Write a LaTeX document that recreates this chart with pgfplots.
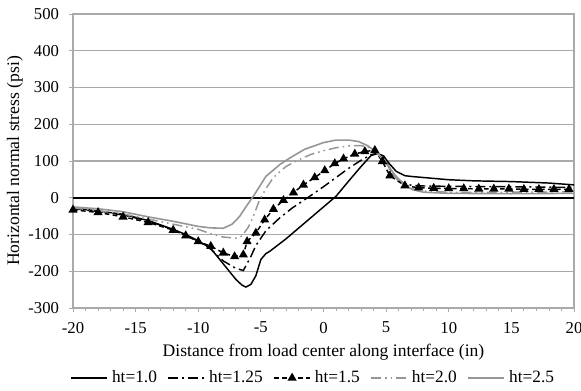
\documentclass[border=0pt]{standalone}
\usepackage{pgfplots}
\pgfplotsset{compat=1.18}
\usepackage{fontspec}
\setmainfont{Liberation Serif}

\definecolor{seriesgray}{RGB}{150,150,150}
\definecolor{gridgray}{RGB}{170,170,170}

% Horizontal normal stress along the interface for several thickness ratios
\pgfplotstableread{
x y
-20 -28
-18 -36
-16 -45
-14 -62
-12 -86
-11 -100
-10 -117
-9 -138
-8 -180
-7 -222
-6.5 -238
-6.2 -243
-5.8 -236
-5.4 -212
-5.0 -168
-4.6 -152
-4.3 -146
-3 -112
-2 -83
-1 -54
0 -25
1 4
2 45
3 85
3.8 115
4.3 120
4.8 114
5.2 95
5.8 72
6.5 60
7 58
8 55
10 49
12 46
15 44
18 40
20 35
}\htone
\pgfplotstableread{
x y
-20 -30
-18 -37
-16 -47
-14 -63
-12 -87
-10 -118
-9 -140
-8 -172
-7 -192
-6.4 -198
-5.8 -160
-5.4 -130
-5.0 -110
-4.6 -90
-3.5 -55
-2.5 -28
-1.1 4
0 30
1 55
2 80
3 102
3.8 117
4.3 121
4.8 108
5.3 80
6 45
7 34
8 32
10 31
15 30
20 28
}\httwo
\pgfplotstableread{
x y
-20 -33
-18 -40
-16 -52
-14 -67
-12 -88
-11 -103
-10 -119
-9 -132
-8 -150
-7.1 -160
-6.4 -155
-6.1 -119
-5.4 -96
-4.7 -60
-4.0 -31
-3.2 -7
-2.4 14
-1.6 35
-0.7 55
0.1 74
0.9 93
1.6 106
2.5 119
3.3 126
4.1 129
4.7 99
5.3 60
6.5 33
7.6 27
8.8 26
10.0 25
11.2 25
12.4 24
13.6 24
14.8 24
16.0 23
17.2 23
18.4 23
19.6 23
}\htthree
\pgfplotstableread{
x y
-20 -28
-18 -35
-16 -44
-14 -58
-12 -72
-10 -86
-9 -98
-8 -107
-7 -110
-6.5 -104
-6 -80
-5.6 -51
-5.1 -5
-4.5 30
-4 55
-3 85
-2 103
-1 118
0 128
1 136
2 141
3 142
3.8 135
4.5 115
5 90
5.5 65
6 45
7 25
8 18
10 15
15 15
20 16
}\htfour
\pgfplotstableread{
x y
-20 -25
-18 -30
-16 -38
-14 -52
-12 -64
-10 -78
-9 -82
-8 -83
-7.3 -72
-6.7 -51
-6.2 -25
-5.6 4
-4.6 58
-3.5 90
-2.7 108
-1.5 132
0 150
1 157
2 157
2.8 153
3.5 142
4.2 125
5 94
5.8 58
6.5 35
7.1 22
8 15
10 12
15 11
20 12
}\htfive

\begin{document}
\begin{tikzpicture}
\begin{axis}[
  scale only axis,
  width=375.75pt, height=220.5pt,
  xmin=-20, xmax=20, ymin=-300, ymax=500,
  xtick={-20,-15,...,20},
  minor x tick num=4,
  ytick={-300,-200,...,500},
  xtick pos=bottom, ytick pos=left,
  tick align=outside,
  major tick length=3pt, minor tick length=2.5pt,
  every tick/.style={gridgray, line width=0.6pt},
  axis line style={gridgray, line width=0.8pt},
  ymajorgrids,
  major grid style={gridgray, line width=0.8pt},
  /pgf/number format/assume math mode=true,
  ticklabel style={font=\fontsize{12.5}{14}\selectfont},
  yticklabel style={xshift=-4pt},
  xticklabel style={yshift=-4pt},
  xlabel={Distance from load center along interface (in)},
  ylabel={Horizontal normal stress (psi)},
  label style={font=\fontsize{13.2}{15}\selectfont},
  xlabel style={at={(axis description cs:0.5,-0.1497)}, anchor=center},
  ylabel style={at={(axis description cs:-0.1158,0.5)}, anchor=center, rotate=0},
  legend style={
    at={(axis description cs:0.479,-0.238)}, anchor=center,
    draw=none, fill=none,
    font=\fontsize{13}{15}\selectfont,
    legend columns=-1,
    nodes={inner xsep=1pt},
    /tikz/every odd column/.append style={column sep=2pt},
    /tikz/every even column/.append style={column sep=7pt},
  },
  legend image code/.code={
    \draw[#1] (0pt,0pt) -- (13.5pt,0pt) -- (27pt,0pt);
    \draw[#1, only marks] plot coordinates {(13.5pt,0pt)};
  },
  clip=true,
]
% reference line at zero stress
\addplot[black, line width=1.5pt, forget plot] coordinates {(-20,0) (20,0)};

\addplot[black, line width=1.1pt] table {\htone};
\addlegendentry{ht=1.0}
\addplot[black, line width=1.1pt, dash pattern=on 7.5pt off 3pt on 1.5pt off 3pt] table {\httwo};
\addlegendentry{ht=1.25}
\addplot[black, line width=1.1pt, dash pattern=on 3.5pt off 2.5pt,
  mark=triangle*, mark size=2.9pt, mark options={solid, fill=black}] table {\htthree};
\addlegendentry{ht=1.5}
\addplot[seriesgray, line width=1.1pt, dash pattern=on 7.5pt off 3pt on 1.2pt off 3pt on 1.2pt off 3pt] table {\htfour};
\addlegendentry{ht=2.0}
\addplot[seriesgray, line width=1.2pt] table {\htfive};
\addlegendentry{ht=2.5}
\end{axis}
\pgfresetboundingbox
\path (current axis.south west) ++(-54.75pt,-62.25pt) coordinate (bl);
\path (current axis.north east) ++(5.25pt,10.5pt) coordinate (tr);
\path[use as bounding box] (bl) rectangle (tr);
\end{tikzpicture}
\end{document}
